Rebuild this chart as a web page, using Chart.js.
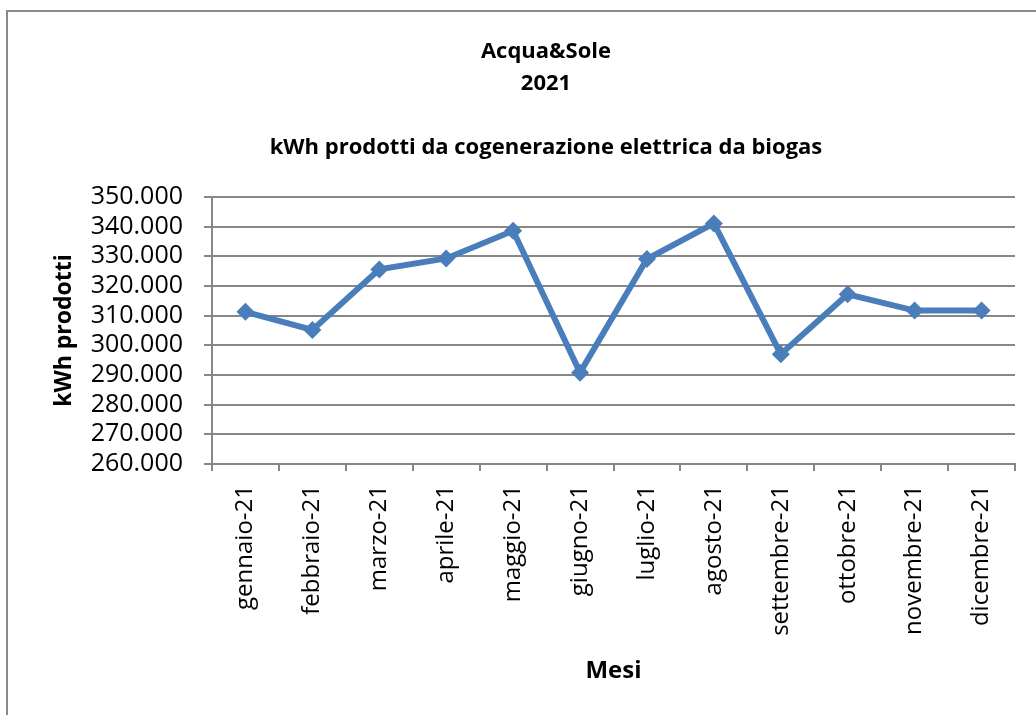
<!DOCTYPE html>
<html>
<head>
<meta charset="utf-8">
<script src="https://cdn.jsdelivr.net/npm/chart.js@4.4.0/dist/chart.umd.min.js"></script>
<style>
  body { margin: 0; background: #fff; overflow: hidden; }
  #wrap { position: relative; width: 1036px; height: 715px; }
  #cornice { position: absolute; left: 6px; top: 10px; width: 1040px; height: 720px;
             border-left: 2px solid #8a8a8a; border-top: 2px solid #8a8a8a; }
  #myChart { position: absolute; left: 0; top: 0; }
</style>
</head>
<body>
<div id="wrap">
  <div id="cornice"></div>
  <canvas id="myChart" width="1036" height="715"></canvas>
</div>
<script>
// dati
var mesi = ["gennaio-21","febbraio-21","marzo-21","aprile-21","maggio-21","giugno-21",
            "luglio-21","agosto-21","settembre-21","ottobre-21","novembre-21","dicembre-21"];
var kwh = [311300, 305200, 325600, 329300, 338600, 290800,
           329100, 341100, 297000, 317200, 311700, 311700];
var titoli = ["Acqua&Sole", "2021", "kWh prodotti da cogenerazione elettrica da biogas"];
var yMin = 260000, yMax = 350000, yStep = 10000;

var grigio = "#878787";
var blu = "#4a7ebb";
var font = "'Open Sans', 'Noto Sans', sans-serif";

function migliaia(v) {
  return String(v).replace(/\B(?=(\d{3})+(?!\d))/g, ".");
}

// titoli sopra il grafico
var titoliPlugin = {
  id: "titoli",
  afterDraw: function(chart) {
    var ctx = chart.ctx;
    ctx.save();
    ctx.fillStyle = "#000";
    ctx.textAlign = "center";
    ctx.textBaseline = "middle";
    ctx.font = "bold 22px " + font;
    ctx.fillText(titoli[0], 546, 52);
    ctx.fillText(titoli[1], 546, 84);
    ctx.fillText(titoli[2], 546, 148);
    ctx.restore();
  }
};

var ctx = document.getElementById("myChart").getContext("2d");
var myChart = new Chart(ctx, {
  type: "line",
  data: {
    labels: mesi,
    datasets: [{
      label: "kWh prodotti",
      data: kwh,
      borderColor: blu,
      backgroundColor: blu,
      borderWidth: 6,
      tension: 0,
      pointStyle: "rectRot",
      pointRadius: 9,
      pointBorderWidth: 0,
      pointBackgroundColor: blu
    }]
  },
  options: {
    responsive: false,
    animation: false,
    layout: { padding: { top: 197, right: 21, bottom: 0, left: 0 } },
    plugins: {
      legend: { display: false },
      tooltip: { enabled: false }
    },
    scales: {
      x: {
        offset: true,
        grid: { offset: true, drawOnChartArea: false, color: grigio, lineWidth: 2, tickLength: 7 },
        border: { color: grigio, width: 2 },
        ticks: {
          color: "#000", font: { family: font, size: 24 },
          minRotation: 90, maxRotation: 90, padding: 14, autoSkip: false
        },
        title: {
          display: true, text: "Mesi", color: "#000",
          font: { family: font, size: 24, weight: "bold" },
          padding: { top: 0, bottom: 29 }
        },
        afterFit: function(scale) { scale.height = 251; }
      },
      y: {
        min: yMin, max: yMax,
        grid: { color: grigio, lineWidth: 2, tickLength: 8 },
        border: { color: grigio, width: 2 },
        ticks: {
          stepSize: yStep, color: "#000", padding: 21, autoSkip: false,
          font: { family: font, size: 25, lineHeight: 1 },
          callback: function(v) { return migliaia(v); }
        },
        title: {
          display: true, text: "kWh prodotti", color: "#000",
          font: { family: font, size: 23, weight: "bold" },
          padding: { top: 51, bottom: 0 }
        },
        afterFit: function(scale) { scale.width = 212; }
      }
    }
  },
  plugins: [titoliPlugin]
});
</script>
</body>
</html>
